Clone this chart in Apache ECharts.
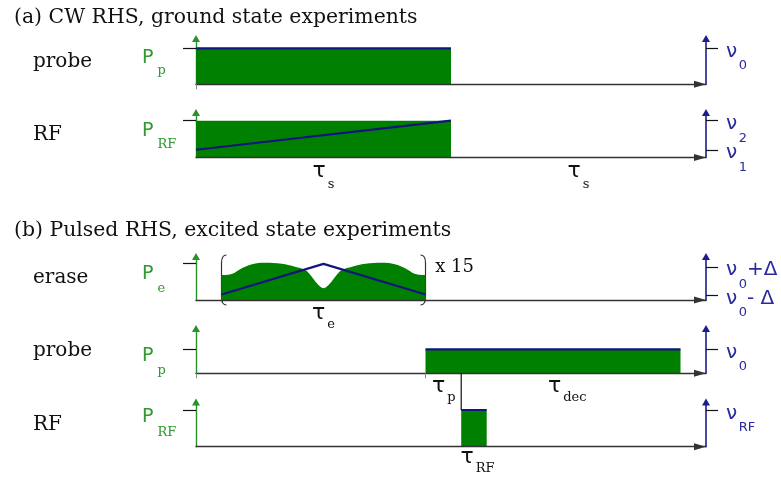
<!DOCTYPE html>
<html><head><meta charset="utf-8">
<script src="https://cdn.jsdelivr.net/npm/echarts@6/dist/echarts.min.js"></script>
<style>html,body{margin:0;padding:0;background:#fff}#c{width:781px;height:480px}</style>
</head><body><div id="c"></div>
<script>
// ---------------- data ----------------
const sectionTitles = ['(a) CW RHS, ground state experiments', '(b) Pulsed RHS, excited state experiments'];
const rowNames = ['probe', 'RF', 'erase', 'probe', 'RF'];
const timeMax = 10;
const powerMax = [1.272, 1.223, 1.192, 1.867, 1.218];

// (a) probe
const aProbeTime = [0, 5];
const aProbePower = [1, 1];
const aProbeFreq = [1, 1];
// (a) RF (frequency sweep nu1 -> nu2)
const aRfTime = [0, 5];
const aRfPower = [1, 1];
const aRfFreq = [0.21, 1.0];
// (b) erase
const eraseTime = [0.5, 0.7, 0.9, 1.1, 1.35, 1.68, 1.94, 2.14, 2.27, 2.37, 2.5, 2.63, 2.73, 2.86, 3.06, 3.32, 3.65, 3.9, 4.1, 4.3, 4.5];
const erasePower = [0.68, 0.71, 0.87, 0.98, 1.02, 0.99, 0.91, 0.82, 0.64, 0.46, 0.32, 0.46, 0.64, 0.82, 0.91, 0.99, 1.02, 0.98, 0.87, 0.71, 0.68];
const eraseSweepTime = [0.5, 2.5, 4.5];
const eraseSweepFreq = [0.15, 0.99, 0.15];
const eraseRepeat = 'x 15';
const bracketTime = [0.5, 4.5];
const bracketLevel = [-0.137, 1.233];
const repeatLabelAt = [4.69, 0.9];
// (b) probe
const bProbeTime = [4.5, 9.5];
const bProbePower = [1, 1];
const bProbeFreq = [1, 1];
// (b) RF pulse
const bRfTime = [5.2, 5.7];
const bRfPower = [1, 1];
const bRfFreq = [1, 1];
// trigger line from RF pulse top up to probe baseline (RF-row units)
const triggerTime = [5.2, 5.2];
const triggerLevel = [1, 2];

// tick labels
const powerSymbol = ['P', 'P', 'P', 'P', 'P'];
const powerSub = ['p', 'RF', 'e', 'p', 'RF'];
const freqTicks = [[1], [0.21, 1.0], [0.13, 0.91], [1], [1]];
const freqLabels = [
  [['ν', '0', '']],
  [['ν', '1', ''], ['ν', '2', '']],
  [['ν', '0', '- Δ'], ['ν', '0', '+Δ']],
  [['ν', '0', '']],
  [['ν', 'RF', '']]
];
const timeTicks = [[0], [], [], [0, 4.5], []];
const timeLabelPos = [[], [2.5, 7.5], [2.5], [4.86, 7.28], [5.52]];
const timeLabelSub = [[], ['s', 's'], ['e'], ['p', 'dec'], ['RF']];

// ---------------- layout / style (not data) ----------------
const SANS = 'DejaVu Sans', SERIF = 'DejaVu Serif';
const GREEN = '#008000', GREEN_AX = '#2a922a', GREEN_TXT = '#2f9a2f';
const NAVY = '#14147f', NAVY_AX = '#1c1c8c', NAVY_TXT = '#2a2a9c';
const rowLayout = [
  {top: 38.5, bottom: 84.3, pBig: 5, pSub: 17.5, tBig: 0, tSub: 0},
  {top: 112.5, bottom: 157.5, pBig: 5.5, pSub: 18.5, tBig: 9, tSub: 22},
  {top: 256.5, bottom: 300, pBig: 6, pSub: 20, tBig: 8.5, tSub: 20},
  {top: 328.5, bottom: 373.3, pBig: 2, pSub: 16.5, tBig: 7.7, tSub: 19.7},
  {top: 402, bottom: 446.7, pBig: 2.5, pSub: 17.5, tBig: 5.8, tSub: 17.3}
];

function zip(a, b) { return a.map((v, i) => [v, b[i]]); }
function nearest(arr, v) { let k = 0; arr.forEach((a, i) => { if (Math.abs(a - v) < Math.abs(arr[k] - v)) k = i; }); return k; }

const grids = [], xAxes = [], yAxes = [], series = [];
const leftIdx = [], rightIdx = [];
rowLayout.forEach((L, i) => {
  grids.push({left: 196, width: 510, top: L.top, height: L.bottom - L.top, containLabel: false, outerBoundsMode: 'none'});
  xAxes.push({
    gridIndex: i, type: 'value', min: 0, max: timeMax, z: 3,
    axisLine: {show: true, onZero: false, lineStyle: {color: '#333', width: 1.4},
      symbol: ['none', 'triangle'], symbolSize: [7, 12], symbolOffset: [0, -6]},
    axisTick: timeTicks[i].length ? {show: true, customValues: timeTicks[i], length: 5, lineStyle: {color: '#888', width: 1}} : {show: false},
    axisLabel: timeLabelPos[i].length ? {
      show: true, customValues: timeLabelPos[i], margin: 0, verticalAlign: 'top', align: 'center',
      showMinLabel: true, showMaxLabel: true, hideOverlap: false,
      formatter: v => '{t|τ}{s|' + timeLabelSub[i][nearest(timeLabelPos[i], v)] + '}',
      rich: {
        t: {fontFamily: SANS, fontSize: 22, color: '#111', height: 10, verticalAlign: 'top', padding: [L.tBig, 0, 0, 0]},
        s: {fontFamily: SERIF, fontSize: 13, color: '#111', height: 10, verticalAlign: 'top', padding: [L.tSub, 0, 0, 2]}
      }
    } : {show: false},
    splitLine: {show: false}
  });
  // left (power) axis
  leftIdx.push(yAxes.length);
  yAxes.push({
    gridIndex: i, type: 'value', position: 'left', min: 0, max: powerMax[i],
    name: rowNames[i], nameLocation: 'middle', nameRotate: 0, nameGap: 163, nameMoveOverlap: false,
    nameTextStyle: {fontFamily: SERIF, fontSize: 20, color: '#111', align: 'left', verticalAlign: 'middle'},
    axisLine: {show: true, onZero: false, lineStyle: {color: GREEN_AX, width: 1.4},
      symbol: ['none', 'triangle'], symbolSize: [8, 7]},
    axisTick: {show: true, customValues: [1], length: 13, lineStyle: {color: '#111', width: 1.2}},
    axisLabel: {
      show: true, customValues: [1], margin: 54, align: 'left', verticalAlign: 'top',
      showMinLabel: true, showMaxLabel: true, hideOverlap: false,
      formatter: () => '{b|' + powerSymbol[i] + '}{s|' + powerSub[i] + '}',
      rich: {
        b: {fontFamily: SANS, fontSize: 19, color: GREEN_TXT, height: 10, verticalAlign: 'top', padding: [L.pBig, 0, 0, 0]},
        s: {fontFamily: SERIF, fontSize: 13, color: GREEN_TXT, height: 10, verticalAlign: 'top', padding: [L.pSub, 0, 0, 4]}
      }
    },
    splitLine: {show: false}
  });
  // right (frequency) axis: one axis per labelled frequency (same position/scale)
  rightIdx.push(yAxes.length);
  freqTicks[i].forEach((fv, k) => {
    const lab = freqLabels[i][k];
    yAxes.push({
      gridIndex: i, type: 'value', position: 'right', offset: 0, min: 0, max: powerMax[i],
      axisLine: {show: k === 0, onZero: false, lineStyle: {color: NAVY_AX, width: 1.6},
        symbol: ['none', 'triangle'], symbolSize: [8, 7]},
      axisTick: {show: true, customValues: [fv], length: 12, lineStyle: {color: '#111', width: 1.2}},
      axisLabel: {
        show: true, customValues: [fv], margin: 20, align: 'left', verticalAlign: 'top',
        showMinLabel: true, showMaxLabel: true, hideOverlap: false,
        formatter: () => '{b|' + lab[0] + '}{s|' + lab[1] + '}' + (lab[2] ? '{b|' + lab[2] + '}' : ''),
        rich: {
          b: {fontFamily: SANS, fontSize: 20, color: NAVY_TXT, height: 6, verticalAlign: 'top', padding: [0.5, 0, 0, 0]},
          s: {fontFamily: SANS, fontSize: 13, color: NAVY_TXT, height: 6, verticalAlign: 'top', padding: [14.8, 0, 0, 1.5]}
        }
      },
      splitLine: {show: false}
    });
  });
});

function area(i, t, p, smooth) {
  return {type: 'line', xAxisIndex: i, yAxisIndex: leftIdx[i], data: zip(t, p), smooth: smooth || false,
    showSymbol: false, symbol: 'none', lineStyle: {width: 0, color: GREEN}, areaStyle: {color: GREEN, opacity: 1}, z: 2, silent: true};
}
function sweep(i, t, f) {
  return {type: 'line', xAxisIndex: i, yAxisIndex: rightIdx[i], data: zip(t, f),
    showSymbol: false, symbol: 'none', lineStyle: {width: 2.2, color: NAVY}, z: 3, silent: true};
}
series.push(area(0, aProbeTime, aProbePower), sweep(0, aProbeTime, aProbeFreq));
series.push(area(1, aRfTime, aRfPower), sweep(1, aRfTime, aRfFreq));
series.push(area(2, eraseTime, erasePower, 0.35), sweep(2, eraseSweepTime, eraseSweepFreq));
series.push(area(3, bProbeTime, bProbePower), sweep(3, bProbeTime, bProbeFreq));
series.push(area(4, bRfTime, bRfPower), sweep(4, bRfTime, bRfFreq));
series.push({type: 'line', xAxisIndex: 4, yAxisIndex: leftIdx[4], data: zip(triggerTime, triggerLevel), clip: false,
  showSymbol: false, symbol: 'none', lineStyle: {width: 1.2, color: '#111'}, z: 4, silent: true});

const titleStyle = {fontFamily: SERIF, fontSize: 20.4, fontWeight: 'normal', color: '#111'};
const option = {
  animation: false,
  backgroundColor: '#fff',
  title: [
    {text: sectionTitles[0], left: 9, top: 3, textStyle: titleStyle},
    {text: sectionTitles[1], left: 9, top: 216, textStyle: titleStyle}
  ],
  grid: grids, xAxis: xAxes, yAxis: yAxes, series: series
};

const chart = echarts.init(document.getElementById('c'), null, {renderer: 'canvas'});
chart.setOption(option);

// bracket "( ... ) x 15" around the erase block, positioned via the erase axes
const px = (t, v) => chart.convertToPixel({xAxisIndex: 2, yAxisIndex: leftIdx[2]}, [t, v]);
const xl = px(bracketTime[0], 0)[0], xr = px(bracketTime[1], 0)[0];
const yt = px(0, bracketLevel[1])[1], yb = px(0, bracketLevel[0])[1];
const bs = {stroke: '#333', lineWidth: 1.2, fill: null};
function bracket(x, dir) {
  const w = 5 * dir, c = 8;
  return [
    {type: 'bezierCurve', shape: {x1: x + w, y1: yt, cpx1: x, cpy1: yt, x2: x, y2: yt + c}, style: bs, silent: true},
    {type: 'line', shape: {x1: x, y1: yt + c, x2: x, y2: yb - c}, style: bs, silent: true},
    {type: 'bezierCurve', shape: {x1: x, y1: yb - c, cpx1: x, cpy1: yb, x2: x + w, y2: yb}, style: bs, silent: true}
  ];
}
const rp = px(repeatLabelAt[0], repeatLabelAt[1]);
chart.setOption({graphic: [].concat(bracket(xl, 1), bracket(xr, -1), [
  {type: 'text', x: rp[0], y: rp[1], silent: true,
    style: {text: eraseRepeat, fontFamily: SERIF, fontSize: 18, fill: '#111', align: 'left', verticalAlign: 'middle', textAlign: 'left', textVerticalAlign: 'middle'}}
])});
</script></body></html>
